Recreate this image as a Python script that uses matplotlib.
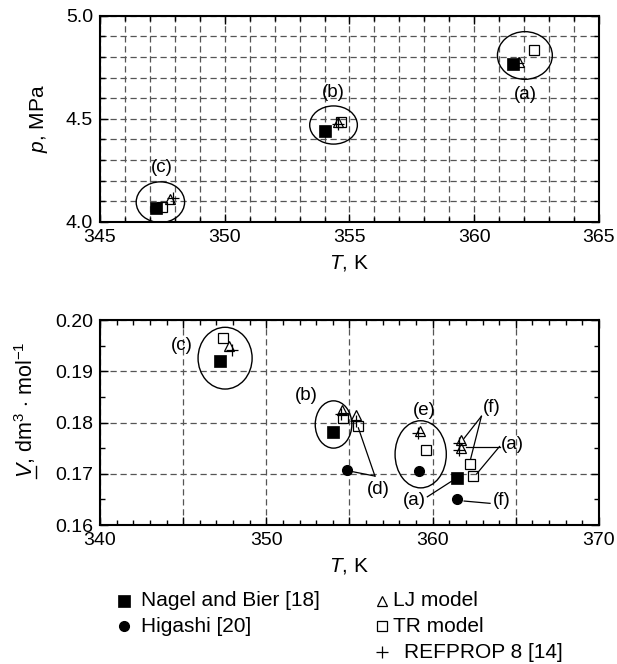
import matplotlib
matplotlib.use('Agg')
import matplotlib.pyplot as plt
from matplotlib.patches import Ellipse
from matplotlib.lines import Line2D
from matplotlib.ticker import MultipleLocator, FuncFormatter

plt.rcParams['font.family'] = 'Liberation Sans'
plt.rcParams['mathtext.fontset'] = 'custom'
plt.rcParams['mathtext.rm'] = 'Liberation Sans'
plt.rcParams['mathtext.it'] = 'Liberation Sans:italic'
plt.rcParams['font.size'] = 14

# top panel: saturation pressure
nagel_T_p = [347.25, 354.03, 361.55]
nagel_p = [4.069, 4.443, 4.764]
lj_T_p = [347.80, 354.53, 361.81]
lj_p = [4.109, 4.483, 4.775]
tr_T_p = [347.47, 354.66, 362.39]
tr_p = [4.074, 4.483, 4.835]
ref_T_p = [347.94, 354.53, 361.75]
ref_p = [4.116, 4.476, 4.770]

# bottom panel: molar volume
nagel_T_v = [347.23, 354.01, 361.46]
nagel_v = [0.1920, 0.1781, 0.1692]
higashi_T_v = [354.82, 359.16, 361.46]
higashi_v = [0.1708, 0.1705, 0.1650]
lj_T_v = [347.78, 354.56, 355.37, 359.21, 361.70, 361.70]
lj_v = [0.1950, 0.1824, 0.1814, 0.1783, 0.1765, 0.1751]
tr_T_v = [347.40, 354.63, 355.53, 359.61, 362.24, 362.41]
tr_v = [0.1964, 0.1808, 0.1793, 0.1747, 0.1719, 0.1695]
ref_T_v = [347.94, 354.49, 355.41, 359.14, 361.60, 361.60]
ref_v = [0.1942, 0.1817, 0.1803, 0.1779, 0.1761, 0.1746]

labels = ['Nagel and Bier [18]', 'Higashi [20]', 'LJ model', 'TR model', 'REFPROP 8 [14]']

# annotation geometry (label text, circles, leader lines)
p_labels = [('(a)', 362.04, 4.618), ('(b)', 354.36, 4.626), ('(c)', 347.48, 4.262)]
p_circles = [(362.03, 4.807, 2.2, 0.231), (354.36, 4.470, 1.91, 0.185), (347.42, 4.096, 1.94, 0.197)]
v_labels = [('(c)', 344.93, 0.1951), ('(b)', 352.40, 0.1852), ('(d)', 356.75, 0.1669),
            ('(e)', 359.49, 0.1824), ('(f)', 363.55, 0.1830), ('(a)', 364.78, 0.1758),
            ('(a)', 358.90, 0.1647), ('(f)', 364.17, 0.1648)]
v_circles = [(347.52, 0.19256, 3.25, 0.01205), (354.04, 0.17962, 2.2, 0.00923),
             (359.28, 0.1738, 3.08, 0.0131)]
v_leaders = [((356.53, 0.16955), (355.13, 0.17045)), ((356.53, 0.16955), (355.53, 0.17897)),
             ((362.93, 0.18122), (361.89, 0.17692)), ((362.93, 0.18122), (362.29, 0.17300)),
             ((364.02, 0.17532), (362.00, 0.17532)), ((364.02, 0.17532), (362.65, 0.17000)),
             ((359.68, 0.16551), (361.22, 0.16872)), ((361.89, 0.16468), (363.45, 0.16423))]

styles = {
    'nagel': dict(marker='s', color='black', ms=8.3, mew=0.5, ls='none'),
    'higashi': dict(marker='o', color='black', ms=7, ls='none'),
    'lj': dict(marker='^', color='black', mfc='none', ms=7.5, mew=0.9, ls='none'),
    'tr': dict(marker='s', color='black', mfc='none', ms=7.5, mew=0.9, ls='none'),
    'ref': dict(marker='+', color='black', ms=9, mew=0.9, ls='none'),
}

fig = plt.figure(figsize=(6.17, 6.64), dpi=100)
ax1 = fig.add_axes([0.1621, 0.6657, 0.8087, 0.3107])
ax2 = fig.add_axes([0.1621, 0.2093, 0.8087, 0.3087])

grid_kw = dict(color='#555555', linestyle=(0, (5, 3)), linewidth=0.9)

def style_axes(ax):
    for s in ax.spines.values():
        s.set_linewidth(1.5)
    ax.tick_params(which='both', direction='in', top=True, right=True, width=1)
    ax.tick_params(which='major', length=6, pad=5)
    ax.tick_params(which='minor', length=3.5)
    ax.set_axisbelow(True)

# --- top panel
ax1.plot(tr_T_p, tr_p, **styles['tr'])
ax1.plot(lj_T_p, lj_p, **styles['lj'])
ax1.plot(ref_T_p, ref_p, **styles['ref'])
ax1.plot(nagel_T_p, nagel_p, **styles['nagel'])
for x, y, w, h in p_circles:
    ax1.add_patch(Ellipse((x, y), w, h, fill=False, lw=1.0, color='black'))
for t, x, y in p_labels:
    ax1.text(x, y, t, ha='center', va='center', fontsize=13.5)
ax1.set_xlim(345, 365)
ax1.set_ylim(4.0, 5.0)
ax1.xaxis.set_major_locator(MultipleLocator(5))
ax1.xaxis.set_minor_locator(MultipleLocator(1))
ax1.yaxis.set_major_locator(MultipleLocator(0.5))
ax1.yaxis.set_minor_locator(MultipleLocator(0.1))
ax1.yaxis.set_major_formatter(FuncFormatter(lambda v, p: f'{v:.1f}'))
ax1.grid(which='both', **grid_kw)
style_axes(ax1)
ax1.set_xlabel('$T$, K', fontsize=15, labelpad=5)
ax1.set_ylabel('$p$, MPa', fontsize=15)
ax1.yaxis.set_label_coords(-0.10, 0.5)

# --- bottom panel
h_tr, = ax2.plot(tr_T_v, tr_v, **styles['tr'])
h_lj, = ax2.plot(lj_T_v, lj_v, **styles['lj'])
h_ref, = ax2.plot(ref_T_v, ref_v, **styles['ref'])
h_hig, = ax2.plot(higashi_T_v, higashi_v, **styles['higashi'])
h_nag, = ax2.plot(nagel_T_v, nagel_v, **styles['nagel'])
for x, y, w, h in v_circles:
    ax2.add_patch(Ellipse((x, y), w, h, fill=False, lw=1.0, color='black'))
for (x0, y0), (x1, y1) in v_leaders:
    ax2.plot([x0, x1], [y0, y1], color='black', lw=0.9)
for t, x, y in v_labels:
    ax2.text(x, y, t, ha='center', va='center', fontsize=13.5)
ax2.set_xlim(340, 370)
ax2.set_ylim(0.16, 0.20)
ax2.xaxis.set_major_locator(MultipleLocator(5))
ax2.xaxis.set_minor_locator(MultipleLocator(1))
ax2.xaxis.set_major_formatter(FuncFormatter(lambda v, p: f'{v:.0f}' if round(v) % 10 == 0 else ''))
ax2.yaxis.set_major_locator(MultipleLocator(0.01))
ax2.yaxis.set_minor_locator(MultipleLocator(0.005))
ax2.yaxis.set_major_formatter(FuncFormatter(lambda v, p: f'{v:.2f}'))
ax2.grid(which='major', **grid_kw)
style_axes(ax2)
ax2.set_xlabel('$T$, K', fontsize=15, labelpad=5)
ax2.set_ylabel(r'$V$, dm$^3$ $\cdot$ mol$^{-1}$', fontsize=15.5)
ax2.yaxis.set_label_coords(-0.125, 0.56)

# --- legend (two columns: 2 + 3 entries)
handles = [h_nag, h_hig, h_lj, h_tr, h_ref]
pos = [(124, 601), (124, 626), (382, 601), (382, 626), (382, 652)]
text_x = [141, 141, 393, 393, 404]
W, H = 617, 664
for h, lab, (mx, my), tx in zip(handles, labels, pos, text_x):
    fig.add_artist(Line2D([mx / W], [1 - my / H], transform=fig.transFigure,
                          marker=h.get_marker(), color='black', mfc=h.get_markerfacecolor(),
                          ms=h.get_markersize(), mew=h.get_markeredgewidth(), ls='none'))
    fig.text(tx / W, 1 - my / H, lab, ha='left', va='center', fontsize=15)

# underline the V of the molar volume label
fig.canvas.draw()
bb = ax2.yaxis.label.get_window_extent(fig.canvas.get_renderer())
ux = (bb.x1 - 1.5) / fig.bbox.width
fig.add_artist(Line2D([ux, ux], [bb.y0 / fig.bbox.height, (bb.y0 + 12) / fig.bbox.height],
                      transform=fig.transFigure, color='black', lw=1.0))

fig.savefig('out.png', dpi=100)
